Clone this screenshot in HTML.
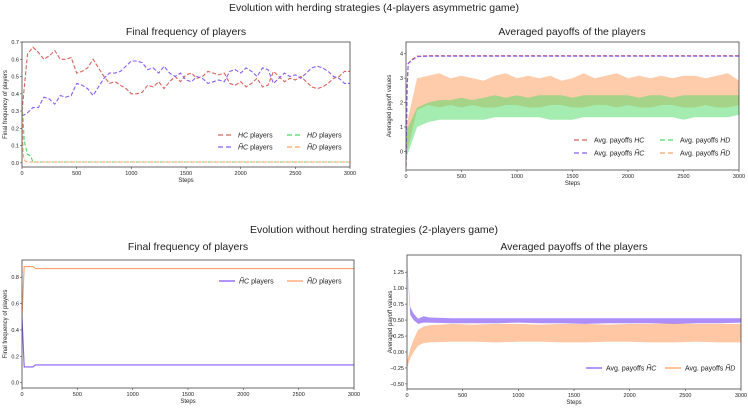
<!DOCTYPE html>
<html><head><meta charset="utf-8"><style>
html,body{margin:0;padding:0;background:#fff;}
svg{display:block;font-family:"Liberation Sans","DejaVu Sans",sans-serif;}
</style></head><body>
<svg id="fig" width="748" height="409" viewBox="0 0 748 409" xmlns="http://www.w3.org/2000/svg">
<text x="374" y="11" text-anchor="middle" font-size="10.5" fill="#222">Evolution with herding strategies (4-players asymmetric game)</text>
<text x="186" y="35" text-anchor="middle" font-size="10.5" fill="#222">Final frequency of players</text>
<text x="572" y="35" text-anchor="middle" font-size="10.5" fill="#222">Averaged payoffs of the players</text>
<text x="374" y="233" text-anchor="middle" font-size="10.5" fill="#222">Evolution without herding strategies (2-players game)</text>
<text x="188" y="250" text-anchor="middle" font-size="10.5" fill="#222">Final frequency of players</text>
<text x="574" y="250" text-anchor="middle" font-size="10.5" fill="#222">Averaged payoffs of the players</text>
</svg>
<script>
// ---------- data ----------
var steps50=[0,50,100,150,200,250,300,350,400,450,500,550,600,650,700,750,800,850,900,950,1000,1050,1100,1150,1200,1250,1300,1350,1400,1450,1500,1550,1600,1650,1700,1750,1800,1850,1900,1950,2000,2050,2100,2150,2200,2250,2300,2350,2400,2450,2500,2550,2600,2650,2700,2750,2800,2850,2900,2950,3000];
var freqHC=[0.3,0.63,0.67,0.64,0.6,0.62,0.65,0.6,0.6,0.61,0.52,0.53,0.55,0.6,0.55,0.5,0.46,0.47,0.45,0.43,0.4,0.4,0.41,0.45,0.44,0.47,0.43,0.47,0.5,0.47,0.51,0.52,0.49,0.5,0.53,0.52,0.51,0.52,0.46,0.45,0.47,0.44,0.46,0.49,0.44,0.45,0.53,0.5,0.47,0.49,0.48,0.5,0.47,0.44,0.43,0.44,0.46,0.49,0.5,0.53,0.53];
var freqHtC=[0.27,0.29,0.32,0.32,0.38,0.37,0.34,0.39,0.38,0.39,0.46,0.45,0.43,0.39,0.44,0.49,0.52,0.52,0.53,0.56,0.59,0.59,0.58,0.54,0.55,0.52,0.56,0.52,0.5,0.52,0.48,0.47,0.5,0.49,0.46,0.47,0.48,0.47,0.53,0.54,0.52,0.55,0.53,0.5,0.55,0.54,0.46,0.49,0.52,0.5,0.51,0.49,0.52,0.55,0.56,0.55,0.53,0.5,0.49,0.46,0.46];
var stepsEarly=[0,10,20,30,50,80,100,3000];
var freqHD=[0.33,0.25,0.13,0.1,0.05,0.04,0.005,0.005];
var freqHtD=[0.33,0.05,0.02,0.01,0.005,0.005,0.005,0.005];

var steps100=[0,100,200,300,400,500,600,700,800,900,1000,1100,1200,1300,1400,1500,1600,1700,1800,1900,2000,2100,2200,2300,2400,2500,2600,2700,2800,2900,3000];
var payHtDLo=[-0.2,1.7,1.9,1.8,1.9,1.8,1.9,1.8,1.8,1.9,1.9,1.8,1.8,1.9,1.9,1.8,1.8,1.9,1.9,1.8,1.9,1.8,1.8,1.9,1.9,1.8,1.8,1.9,1.8,1.8,1.9];
var payHtDHi=[1.0,3.0,3.1,3.2,3.0,3.1,3.0,2.9,3.1,3.2,3.0,3.1,3.0,3.1,2.9,3.0,3.2,3.0,3.1,3.2,3.0,3.1,3.0,3.1,3.0,3.1,3.1,3.0,3.1,3.2,2.9];
var payHDLo=[-0.3,1.0,1.2,1.3,1.3,1.3,1.3,1.3,1.4,1.4,1.4,1.4,1.4,1.3,1.3,1.3,1.4,1.4,1.4,1.4,1.4,1.4,1.4,1.4,1.4,1.3,1.4,1.4,1.4,1.4,1.5];
var payHDHi=[0.8,1.8,2.0,2.1,2.1,2.2,2.1,2.2,2.3,2.2,2.3,2.2,2.3,2.3,2.3,2.2,2.3,2.3,2.3,2.3,2.3,2.2,2.3,2.3,2.2,2.3,2.3,2.3,2.3,2.3,2.3];
var stepsPC=[0,10,20,50,100,200,1000,2000,3000];
var payHC=[-0.6,2.5,3.6,3.75,3.9,3.92,3.92,3.92,3.92];
var payHtC=[-0.6,2.6,3.6,3.72,3.88,3.9,3.9,3.9,3.9];

var stepsB=[0,20,50,100,120,3000];
var freqBHtC=[0.5,0.12,0.12,0.12,0.135,0.135];
var freqBHtD=[0.5,0.88,0.88,0.88,0.865,0.865];

var stepsBR=[0,30,60,100,150,200,400,600,800,1000,1200,1400,1600,1800,2000,2200,2400,2600,2800,3000];
var payBHtCLo=[1.38,0.58,0.5,0.44,0.46,0.46,0.45,0.45,0.45,0.46,0.45,0.45,0.44,0.45,0.45,0.45,0.44,0.45,0.45,0.46];
var payBHtCHi=[1.4,0.7,0.6,0.52,0.56,0.54,0.53,0.53,0.53,0.53,0.53,0.53,0.53,0.53,0.53,0.53,0.53,0.53,0.53,0.53];
var payBHtDLo=[-0.25,-0.1,0.0,0.1,0.14,0.15,0.16,0.16,0.15,0.16,0.16,0.15,0.15,0.16,0.16,0.15,0.15,0.16,0.15,0.15];
var payBHtDHi=[-0.15,0.05,0.2,0.35,0.4,0.42,0.44,0.43,0.44,0.44,0.43,0.44,0.44,0.43,0.44,0.44,0.45,0.44,0.44,0.44];

var xTicks=[0,500,1000,1500,2000,2500,3000];
var yTicksTL=[0,0.1,0.2,0.3,0.4,0.5,0.6,0.7];
var yTicksTR=[0,1,2,3,4];
var yTicksBL=[0,0.2,0.4,0.6,0.8];
var yTicksBR=[-0.5,-0.25,0,0.25,0.5,0.75,1,1.25];

// ---------- helpers ----------
var NS='http://www.w3.org/2000/svg';
var svg=document.getElementById('fig');
function mk(tag,attrs,parent){var e=document.createElementNS(NS,tag);for(var k in attrs)e.setAttribute(k,attrs[k]);(parent||svg).appendChild(e);return e;}
function panel(name,x0,x1,y0,y1,ymin,ymax,yticks,ylabel,fmt){
  var g=mk('g',{});
  
  
  var p={g:g,sx:function(v){return x0+(v/3000)*(x1-x0);},sy:function(v){return y1-(v-ymin)/(ymax-ymin)*(y1-y0);},x0:x0,x1:x1,y0:y0,y1:y1};
  p.clip='c'+name;
  var cp=mk('clipPath',{id:p.clip},g);mk('rect',{x:x0,y:y0,width:x1-x0,height:y1-y0},cp);
  p.plot=mk('g',{'clip-path':'url(#'+p.clip+')'},g);
  var fr=mk('rect',{x:x0,y:y0,width:x1-x0,height:y1-y0,fill:'none',stroke:'#444','stroke-width':0.8},g);
  
  
  xTicks.forEach(function(t){var X=p.sx(t);mk('line',{x1:X,x2:X,y1:y1,y2:y1+2,stroke:'#444','stroke-width':0.6},g);
    var tx=mk('text',{x:X,y:y1+8,'text-anchor':'middle','font-size':5.5,fill:'#222'},g);tx.textContent=t;
    
    });
  yticks.forEach(function(t){var Y=p.sy(t);mk('line',{x1:x0-2,x2:x0,y1:Y,y2:Y,stroke:'#444','stroke-width':0.6},g);
    var tx=mk('text',{x:x0-3,y:Y+2,'text-anchor':'end','font-size':5.5,fill:'#222'},g);tx.textContent=fmt(t);
    
    });
  var xl=mk('text',{x:(x0+x1)/2,y:y1+15,'text-anchor':'middle','font-size':6,fill:'#222'},g);xl.textContent='Steps';
  
  
  var yl=mk('text',{x:0,y:0,'text-anchor':'middle','font-size':6,fill:'#222',transform:'translate('+(x0-15)+','+((y0+y1)/2)+') rotate(-90)'},g);yl.textContent=ylabel;
  
  
  return p;
}
function line(p,xs,ys,color,dash,name,w){
  var pts=xs.map(function(x,i){return p.sx(x).toFixed(1)+','+p.sy(ys[i]).toFixed(1);}).join(' ');
  var e=mk('polyline',{points:pts,fill:'none',stroke:color,'stroke-width':w||1.1,'stroke-dasharray':dash||'none'},p.plot);
  
  
}
function band(p,xs,lo,hi,color,op,name){
  var a=xs.map(function(x,i){return p.sx(x).toFixed(1)+','+p.sy(hi[i]).toFixed(1);});
  var b=xs.slice().reverse().map(function(x,k){var i=xs.length-1-k;return p.sx(x).toFixed(1)+','+p.sy(lo[i]).toFixed(1);});
  var e=mk('polygon',{points:a.concat(b).join(' '),fill:color,'fill-opacity':op},p.plot);
  
  
}
function legend(p,x,y,color,dash,label,name){
  var g=mk('g',{},p.g);
  
  
  mk('line',{x1:x,x2:x+16,y1:y,y2:y,stroke:color,'stroke-width':1.3,'stroke-dasharray':dash||'none'},g);
  var t=mk('text',{x:x+20,y:y+2.5,'font-size':7,fill:'#222'},g);t.innerHTML=label;
}
var f1=function(v){return v.toFixed(1);},f0=function(v){return String(v);},f2=function(v){return (v<0?'\u2212':'')+Math.abs(v).toFixed(2);};
var RED='#d9635a',PUR='#8a5cf5',GRN='#4cd964',ORG='#ffa266';
var HC='<tspan font-style="italic">HC</tspan>',HtC='<tspan font-style="italic">H\u0303C</tspan>',HD='<tspan font-style="italic">HD</tspan>',HtD='<tspan font-style="italic">H\u0303D</tspan>';

// top-left
var p1=panel('top-left-chart',22,350,42,167,-0.024,0.7,yTicksTL,'Final frequency of players',f1);
line(p1,steps50,freqHC,RED,'4,2','line-hc');
line(p1,steps50,freqHtC,PUR,'4,2','line-htc');
line(p1,stepsEarly,freqHD,GRN,'4,2','line-hd');
line(p1,stepsEarly,freqHtD,ORG,'4,2','line-htd');
legend(p1,218,135,RED,'5,3',HC+' players','legend-hc');
legend(p1,287,135,GRN,'5,3',HD+' players','legend-hd');
legend(p1,218,147,PUR,'5,3',HtC+' players','legend-htc');
legend(p1,287,147,ORG,'5,3',HtD+' players','legend-htd');

// top-right
var p2=panel('top-right-chart',406,739,42,170,-0.76,4.48,yTicksTR,'Averaged payoff values',f0);
band(p2,steps100,payHtDLo,payHtDHi,ORG,0.55,'band-htd');
band(p2,steps100,payHDLo,payHDHi,GRN,0.5,'band-hd');
line(p2,stepsPC,payHC,RED,'4,2','line-pay-hc');
line(p2,stepsPC,payHtC,PUR,'4,2','line-pay-htc');
legend(p2,574,140,RED,'5,3','Avg. payoffs '+HC,'legend-pay-hc');
legend(p2,660,140,GRN,'5,3','Avg. payoffs '+HD,'legend-pay-hd');
legend(p2,574,153,PUR,'5,3','Avg. payoffs '+HtC,'legend-pay-htc');
legend(p2,660,153,ORG,'5,3','Avg. payoffs '+HtD,'legend-pay-htd');

// bottom-left
var p3=panel('bottom-left-chart',22,354,260,388,-0.04,0.93,yTicksBL,'Final frequency of players',f1);
line(p3,stepsB,freqBHtC,PUR,null,'line-b-htc');
line(p3,stepsB,freqBHtD,ORG,null,'line-b-htd');
legend(p3,219,281,PUR,null,HtC+' players','legend-b-htc');
legend(p3,287,281,ORG,null,HtD+' players','legend-b-htd');

// bottom-right
var p4=panel('bottom-right-chart',407,741,255,389,-0.58,1.52,yTicksBR,'Averaged payoff values',f2);
band(p4,stepsBR,payBHtDLo,payBHtDHi,ORG,0.6,'band-b-htd');
band(p4,stepsBR,payBHtCLo,payBHtCHi,PUR,0.7,'band-b-htc');
legend(p4,586,368,PUR,null,'Avg. payoffs '+HtC,'legend-b-pay-htc');
legend(p4,665,368,ORG,null,'Avg. payoffs '+HtD,'legend-b-pay-htd');
</script>
</body></html>
